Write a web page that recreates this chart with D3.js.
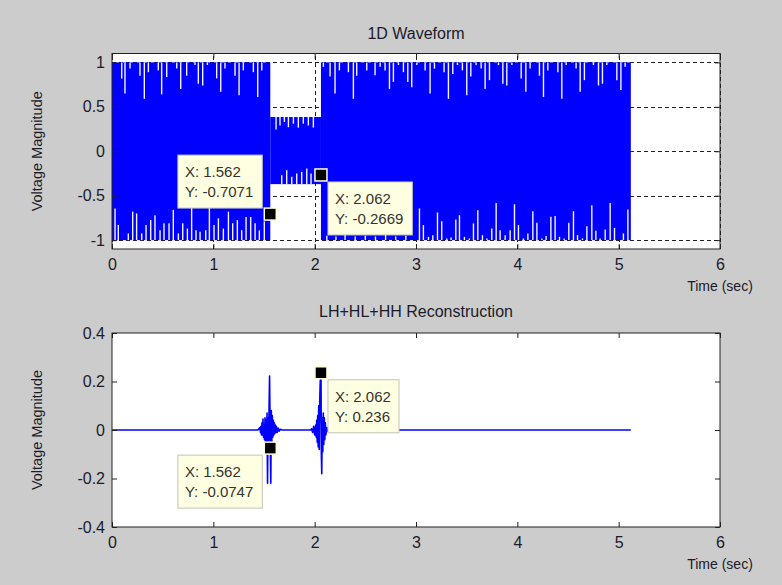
<!DOCTYPE html>
<html>
<head>
<meta charset="utf-8">
<script src="https://cdn.jsdelivr.net/npm/d3@7"></script>
<style>
  html, body { margin: 0; padding: 0; background: #cccccc; }
  svg { display: block; font-family: "Liberation Sans", Arial, sans-serif; }
</style>
</head>
<body>
<svg id="chart" width="782" height="585"></svg>
<script>
// ---------------- DATA ----------------
const xTicks = [0, 1, 2, 3, 4, 5, 6];
const topYTicks = [-1, -0.5, 0, 0.5, 1];
const botYTicks = [-0.4, -0.2, 0, 0.2, 0.4];
const topYTickLabels = ["-1", "-0.5", "0", "0.5", "1"];
const botYTickLabels = ["-0.4", "-0.2", "0", "0.2", "0.4"];

// 1D waveform envelope (dense oscillation drawn as its envelope)
const segStart = [0, 1.562, 2.062];
const segEnd   = [1.562, 2.062, 5.12];
const segUpper = [1, 0.385, 1];
const segLower = [-1, -0.37, -1];

// gaps in the dense waveform hanging from the upper envelope: [t, lowest value reached]
const topNotches = [
  [0.096,0.82],[0.128,0.65],[0.178,0.93],[0.276,0.85],[0.319,0.59],[0.359,0.89],[0.457,0.91],[0.490,0.64],
  [0.540,0.835],[0.639,0.93],[0.678,0.70],[0.737,0.85],[0.819,0.97],[0.852,0.76],[0.895,0.74],[0.941,0.97],
  [1.033,0.82],[1.073,0.67],[1.115,0.93],[1.214,0.85],[1.254,0.63],[1.296,0.91],[1.395,0.89],[1.438,0.61],[1.478,0.91],
  [1.619,0.244],[1.658,0.29],[1.701,0.33],[1.741,0.27],[1.790,0.31],[1.839,0.266],[1.888,0.31],[1.938,0.29],[1.987,0.266],
  [2.086,0.95],[2.152,0.84],[2.201,0.65],[2.244,0.91],[2.333,0.89],[2.382,0.59],[2.415,0.85],[2.514,0.91],
  [2.596,0.854],[2.646,0.95],[2.695,0.91],[2.738,0.70],[2.777,0.78],[2.827,0.97],[2.876,0.89],[2.919,0.78],[2.958,0.72],[3.008,0.97],
  [3.090,0.91],[3.139,0.65],[3.182,0.93],[3.277,0.89],[3.320,0.59],[3.363,0.87],[3.409,0.97],[3.458,0.91],[3.501,0.63],[3.541,0.84],
  [3.593,0.97],[3.643,0.93],[3.682,0.70],[3.725,0.80],[3.814,0.97],[3.857,0.76],[3.896,0.74],[3.946,0.97],[4.038,0.82],[4.084,0.67],
  [4.126,0.93],[4.218,0.85],[4.258,0.61],[4.301,0.91],[4.400,0.89],[4.439,0.59],[4.482,0.97],[4.580,0.93],[4.620,0.67],[4.662,0.80],
  [4.751,0.97],[4.801,0.74],[4.840,0.76],[4.883,0.97],[4.982,0.80],[5.022,0.69],[5.064,0.95]
];

// gaps rising from the lower envelope: [t, highest value reached]
const botNotches = [
  [0.030,-0.644],[0.062,-0.83],[0.161,-0.925],[0.204,-0.68],[0.243,-0.70],[0.293,-0.925],[0.336,-0.83],[0.382,-0.775],
  [0.424,-0.72],[0.474,-0.89],[0.513,-0.81],[0.563,-0.81],[0.605,-0.66],[0.655,-0.925],[0.698,-0.81],[0.744,-0.87],
  [0.786,-0.63],[0.829,-0.89],[0.869,-0.905],[0.925,-0.89],[0.961,-0.63],[1.007,-0.83],[1.050,-0.755],[1.099,-0.87],
  [1.149,-0.68],[1.191,-0.81],[1.237,-0.775],[1.280,-0.89],[1.323,-0.74],[1.369,-0.74],[1.412,-0.81],[1.454,-0.89],[1.503,-0.79],
  [1.675,-0.27],[1.724,-0.213],[1.774,-0.288],[1.823,-0.25],[1.872,-0.232],[1.922,-0.195],[1.964,-0.25],
  [2.12,-0.95],[2.21,-0.96],[2.30,-0.94],[2.40,-0.96],[2.50,-0.95],[2.60,-0.96],[2.70,-0.94],[2.80,-0.96],[2.90,-0.95],
  [3.034,-0.644],[3.073,-0.831],[3.123,-0.963],[3.166,-0.944],[3.212,-0.689],[3.254,-0.787],[3.304,-0.981],[3.346,-0.970],
  [3.393,-0.768],[3.429,-0.72],[3.478,-0.963],[3.527,-0.981],[3.567,-0.812],[3.610,-0.663],[3.656,-0.944],[3.699,-0.981],
  [3.748,-0.869],[3.791,-0.581],[3.830,-0.888],[3.880,-0.944],[3.929,-0.888],[3.972,-0.596],[4.011,-0.831],[4.060,-0.981],
  [4.104,-0.925],[4.153,-0.674],[4.193,-0.806],[4.242,-0.981],[4.284,-0.955],[4.331,-0.738],[4.373,-0.73],[4.416,-0.963],
  [4.462,-0.981],[4.508,-0.806],[4.554,-0.674],[4.594,-0.944],[4.643,-0.981],[4.686,-0.843],[4.735,-0.607],[4.775,-0.896],
  [4.817,-0.981],[4.867,-0.88],[4.916,-0.581],[4.959,-0.862],[5.047,-0.925],[5.091,-0.655]
];

// LH+HL+HH reconstruction samples [t, value]
const recon = [
  [0,0],[1.44,0],[1.46,0.01],[1.465,-0.01],[1.47,0.015],[1.475,-0.02],[1.48,0.03],[1.485,-0.02],[1.49,0.045],
  [1.495,-0.03],[1.50,0.02],[1.505,-0.04],[1.51,0.05],[1.515,-0.05],[1.52,0.04],[1.525,-0.06],[1.53,0.07],
  [1.535,-0.22],[1.54,0.05],[1.545,-0.06],[1.55,0.09],[1.555,0.222],[1.5625,-0.0747],[1.567,-0.22],[1.572,0.08],
  [1.577,-0.05],[1.582,0.06],[1.587,-0.03],[1.592,0.04],[1.597,-0.02],[1.602,0.03],[1.607,-0.015],[1.612,0.02],
  [1.617,-0.01],[1.622,0.015],[1.63,-0.01],[1.64,0.008],[1.65,-0.005],[1.66,0.003],[1.68,0],
  [1.96,0],[1.97,0.005],[1.98,-0.01],[1.99,0.015],[2.0,-0.02],[2.01,0.02],[2.015,-0.03],[2.02,0.04],[2.025,-0.05],
  [2.03,0.06],[2.035,-0.07],[2.04,0.1],[2.045,-0.08],[2.05,0.12],[2.055,0.2],[2.0625,0.236],[2.066,-0.1],
  [2.07,-0.18],[2.075,0.05],[2.08,-0.09],[2.085,0.07],[2.09,-0.06],[2.095,0.05],[2.10,-0.04],[2.105,0.03],
  [2.11,-0.02],[2.12,0.01],[2.13,-0.005],[2.14,0],[5.12,0]
];

// data tips
const tipPanel = ["top", "top", "bottom", "bottom"];
const tipX = [1.562, 2.062, 1.562, 2.062];
const tipY = [-0.7071, -0.2669, -0.0747, 0.236];
const tipYText = ["-0.7071", "-0.2669", "-0.0747", "0.236"];
const tipXText = ["1.562", "2.062", "1.562", "2.062"];

// ---------------- CHART ----------------
const svg = d3.select("#chart");
const FONT = '"Liberation Sans", Arial, sans-serif';
const textColor = "#1b1b2a";
const blue = "#0000ff";

const x = d3.scaleLinear().domain([0, 6]).range([112, 720]);
const yTop = d3.scaleLinear().domain([-1.1, 1.1]).range([249, 53.5]);
const yBot = d3.scaleLinear().domain([-0.4, 0.4]).range([527, 333]);

function drawPanel(y, yTicks, yLabels, title, grid, titleY, xlabelY) {
  const g = svg.append("g");
  const [y0, y1] = [y.range()[0], y.range()[1]];
  g.append("rect").attr("x", x(0)).attr("y", y1).attr("width", x(6) - x(0)).attr("height", y0 - y1)
    .attr("fill", "#ffffff");
  if (grid) {
    const gg = g.append("g").attr("stroke", "#222").attr("stroke-width", 1).attr("stroke-dasharray", "4,3");
    yTicks.forEach(v => gg.append("line").attr("x1", x(0)).attr("x2", x(6)).attr("y1", Math.round(y(v)) + 0.5).attr("y2", Math.round(y(v)) + 0.5));
    xTicks.forEach(v => gg.append("line").attr("x1", Math.round(x(v)) + 0.5).attr("x2", Math.round(x(v)) + 0.5).attr("y1", y0).attr("y2", y1));
  }
  const dataG = g.append("g");
  const axG = g.append("g");
  // axes
  const styleAxis = sel => {
    sel.select(".domain").remove();
    sel.selectAll(".tick line").attr("stroke", "#222");
    sel.selectAll(".tick text").attr("fill", textColor).style("font-size", "16px").style("font-family", FONT);
  };
  axG.append("g").attr("transform", `translate(0,${y0})`)
    .call(d3.axisBottom(x).tickValues(xTicks).tickSize(-5).tickPadding(10).tickFormat(d3.format("d")))
    .call(styleAxis);
  axG.append("g").attr("transform", `translate(0,${y1})`)
    .call(d3.axisTop(x).tickValues(xTicks).tickSize(-5).tickFormat(""))
    .call(styleAxis);
  axG.append("g").attr("transform", `translate(${x(0)},0)`)
    .call(d3.axisLeft(y).tickValues(yTicks).tickSize(-5).tickPadding(7).tickFormat((d, i) => yLabels[i]))
    .call(styleAxis);
  axG.append("g").attr("transform", `translate(${x(6)},0)`)
    .call(d3.axisRight(y).tickValues(yTicks).tickSize(-5).tickFormat(""))
    .call(styleAxis);
  axG.append("rect").attr("x", x(0)).attr("y", y1).attr("width", x(6) - x(0)).attr("height", y0 - y1)
    .attr("fill", "none").attr("stroke", "#222").attr("stroke-width", 1);

  svg.append("text").attr("x", (x(0) + x(6)) / 2).attr("y", titleY).attr("text-anchor", "middle")
    .attr("fill", textColor).style("font-size", "16px").style("font-family", FONT).text(title);
  svg.append("text").attr("x", x(6)).attr("y", xlabelY).attr("text-anchor", "middle")
    .attr("fill", textColor).style("font-size", "14px").style("font-family", FONT).text("Time (sec)");
  const cy = (y0 + y1) / 2;
  svg.append("text").attr("transform", `translate(42,${cy}) rotate(-90)`).attr("text-anchor", "middle")
    .attr("fill", textColor).style("font-size", "14.5px").style("font-family", FONT).text("Voltage Magnitude");
  return dataG;
}

const topData = drawPanel(yTop, topYTicks, topYTickLabels, "1D Waveform", true, 39, 291);
const botData = drawPanel(yBot, botYTicks, botYTickLabels, "LH+HL+HH Reconstruction", false, 317, 569);

// ---- top waveform: envelope bands ----
segStart.forEach((s, i) => {
  topData.append("rect")
    .attr("x", x(s)).attr("width", x(segEnd[i]) - x(s))
    .attr("y", yTop(segUpper[i])).attr("height", yTop(segLower[i]) - yTop(segUpper[i]))
    .attr("fill", blue);
});
function segIndex(t) {
  for (let i = 0; i < segStart.length; i++) if (t >= segStart[i] && t < segEnd[i]) return i;
  return segStart.length - 1;
}
topData.append("g").attr("stroke", "#f4f4ff").attr("stroke-width", 1.4)
  .selectAll("line").data(topNotches).join("line")
  .attr("x1", d => x(d[0])).attr("x2", d => x(d[0]))
  .attr("y1", d => yTop(segUpper[segIndex(d[0])])).attr("y2", d => yTop(d[1]));
topData.append("g").attr("stroke", "#f4f4ff").attr("stroke-width", 1.4)
  .selectAll("line").data(botNotches).join("line")
  .attr("x1", d => x(d[0])).attr("x2", d => x(d[0]))
  .attr("y1", d => yTop(segLower[segIndex(d[0])])).attr("y2", d => yTop(d[1]));

// ---- bottom reconstruction line ----
botData.append("path").datum(recon)
  .attr("d", d3.line().x(d => x(d[0])).y(d => yBot(d[1])))
  .attr("fill", "none").attr("stroke", blue).attr("stroke-width", 1.6).attr("stroke-linejoin", "round");

// ---- data tips ----
const tipCorner = ["ul", "lr", "ll", "lr"];
tipX.forEach((tx, i) => {
  const y = tipPanel[i] === "top" ? yTop : yBot;
  const px = x(tx), py = y(tipY[i]);
  const g = svg.append("g");
  const line1 = "X: " + tipXText[i], line2 = "Y: " + tipYText[i];
  const tmp = g.append("text").style("font-size", "15px").style("font-family", FONT).text(line2);
  const w = Math.max(tmp.node().getComputedTextLength(), 0) + 16;
  tmp.remove();
  const h = 53;
  const c = tipCorner[i];
  const bx = c[1] === "l" ? px - 8 - w : px + 7;
  const by = c[0] === "u" ? py - 6 - h : py + 7;
  g.append("rect").attr("x", bx).attr("y", by).attr("width", w).attr("height", h)
    .attr("fill", "#ffffe1").attr("stroke", "#c4c4b8").attr("stroke-width", 1);
  g.append("text").attr("x", bx + 7).attr("y", by + 22).attr("fill", "#333").style("font-size", "15px").style("font-family", FONT).text(line1);
  g.append("text").attr("x", bx + 7).attr("y", by + 42).attr("fill", "#333").style("font-size", "15px").style("font-family", FONT).text(line2);
  g.append("rect").attr("x", px - 6).attr("y", py - 6).attr("width", 12).attr("height", 12)
    .attr("fill", "#000").attr("stroke", "#ffffd8").attr("stroke-width", 1.5);
});
</script>
</body>
</html>
